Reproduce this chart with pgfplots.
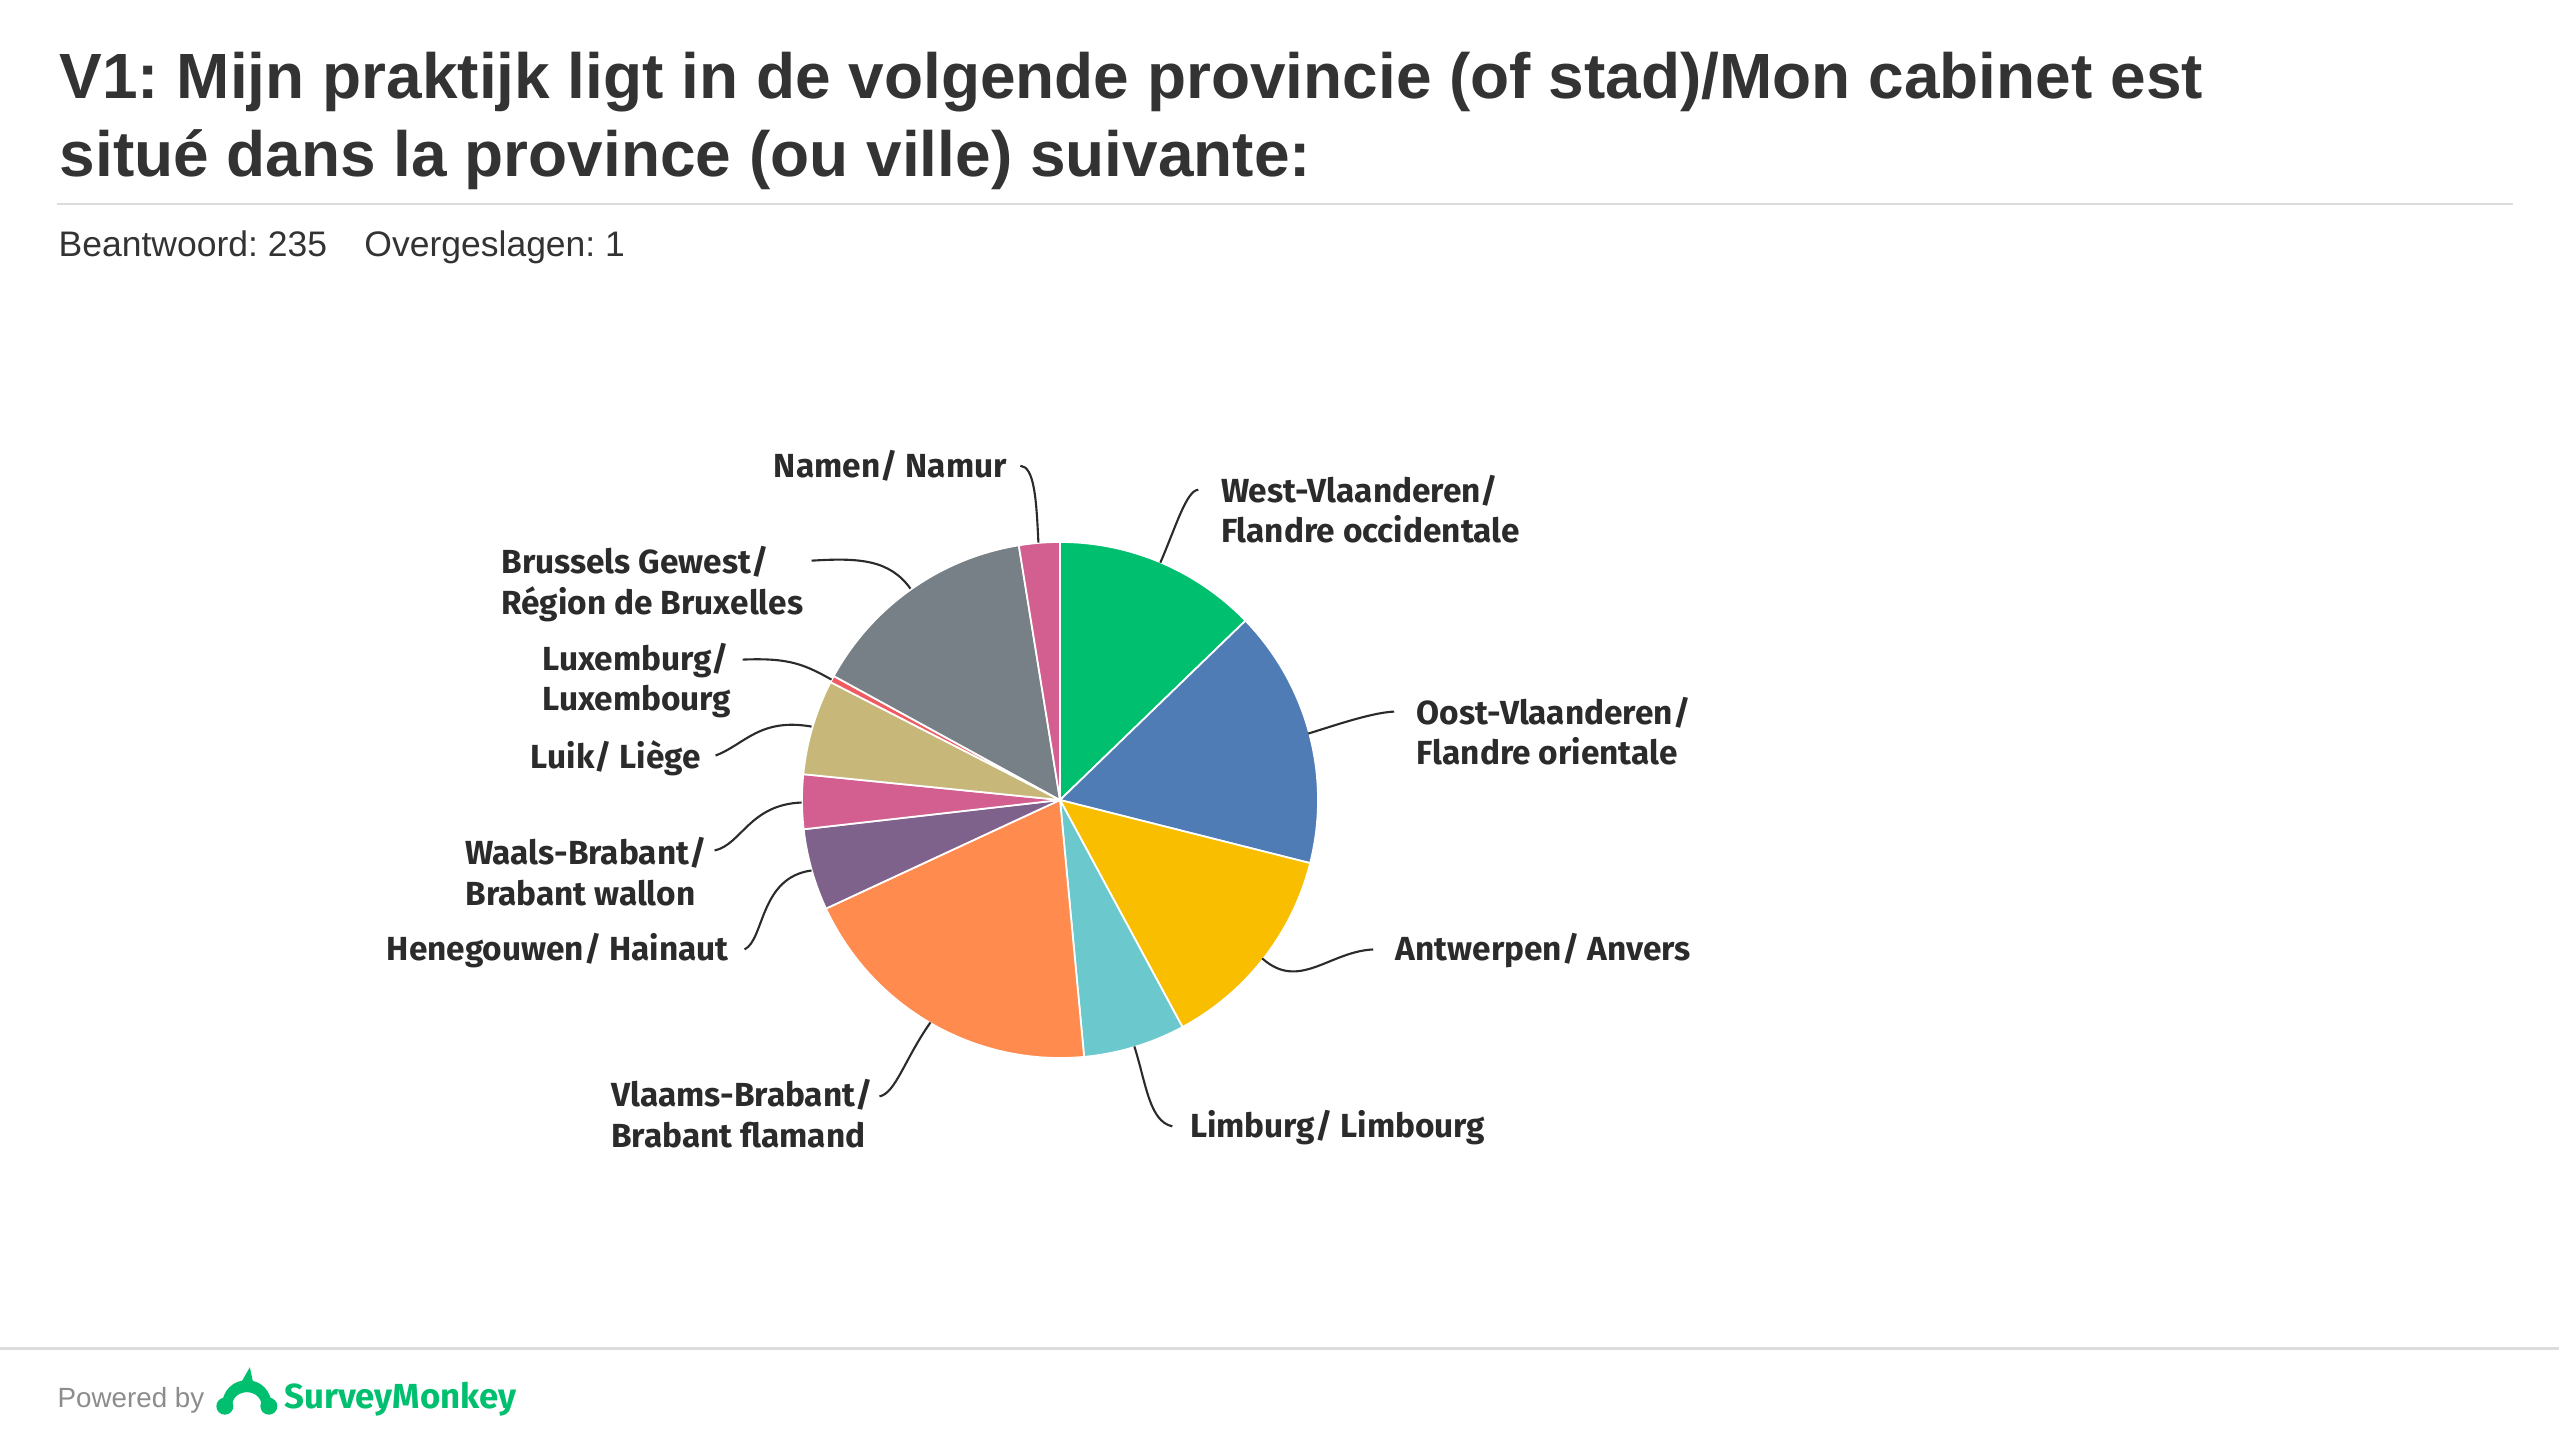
\documentclass[border=0pt]{standalone}
\usepackage{pgfplots}
\pgfplotsset{compat=1.18}
\usepackage{pgfplotstable}
\usepackage{fontspec}
\setmainfont{Liberation Sans}
\newfontfamily\labelfont{Fira Sans}
\definecolor{smGreen}{HTML}{00BF6F}
\definecolor{smBlue}{HTML}{507CB6}
\definecolor{smYellow}{HTML}{F9BE00}
\definecolor{smTeal}{HTML}{6BC8CD}
\definecolor{smOrange}{HTML}{FF8B4F}
\definecolor{smPurple}{HTML}{7F628B}
\definecolor{smPink}{HTML}{D25F90}
\definecolor{smKhaki}{HTML}{C7B879}
\definecolor{smRed}{HTML}{F05B61}
\definecolor{smGray}{HTML}{768086}
\definecolor{txt}{HTML}{333333}
\definecolor{lbl}{HTML}{2B2B2B}
\definecolor{rule}{HTML}{DCDCDC}
\definecolor{powered}{HTML}{8C8C8C}

% Province, respondents (of 235), slice colour; clockwise from 12 o'clock
\pgfplotstableread{
name count color
West-Vlaanderen 30 smGreen
Oost-Vlaanderen 38 smBlue
Antwerpen 31 smYellow
Limburg 15 smTeal
Vlaams-Brabant 46 smOrange
Henegouwen 12 smPurple
Waals-Brabant 8 smPink
Luik 14 smKhaki
Luxemburg 1 smRed
Brussels 34 smGray
Namen 6 smPink
}\piedata

\begin{document}
\frenchspacing
\begin{tikzpicture}
\path[use as bounding box] (0,0) rectangle (25.6cm,14.4cm);

% --- build the slices from the table ---
\pgfplotstablegetrowsof{\piedata}
\pgfmathtruncatemacro{\N}{\pgfplotsretval-1}
\gdef\total{0}
\foreach \i in {0,...,\N}{
  \pgfplotstablegetelem{\i}{count}\of{\piedata}
  \pgfmathsetmacro{\t}{\total+\pgfplotsretval}
  \xdef\total{\t}
}
\gdef\cum{0}
\gdef\slicecmds{}
\foreach \i in {0,...,\N}{
  \pgfplotstablegetelem{\i}{count}\of{\piedata}\let\v\pgfplotsretval
  \pgfplotstablegetelem{\i}{color}\of{\piedata}\let\c\pgfplotsretval
  \pgfmathsetmacro{\a}{90-\cum/\total*360}
  \pgfmathsetmacro{\nc}{\cum+\v}
  \pgfmathsetmacro{\b}{90-\nc/\total*360}
  \xdef\cum{\nc}
  \xdef\slicecmds{\unexpanded\expandafter{\slicecmds}%
    \noexpand\fill[\c, draw=white, line width=0.5pt, line join=round]
      (axis cs:0,0) -- (axis cs:{cos(\a)},{sin(\a)})
      arc[start angle=\a, end angle=\b, radius=2.58cm] -- cycle;}
}

\begin{axis}[at={(10.60cm,6.40cm)}, anchor=origin,
  x=2.58cm, y=2.58cm, xmin=-1.1, xmax=1.1, ymin=-1.1, ymax=1.1,
  hide axis, clip=false]
\slicecmds
\end{axis}

\begin{scope}[shift={(0,14.4cm)}, x=0.01cm, y=-0.01cm]
  % title
  \node[anchor=base west, inner sep=0, text=txt, font=\fontsize{18.2}{22}\selectfont\bfseries]
    at (59,99) {V1: Mijn praktijk ligt in de volgende provincie (of stad)/Mon cabinet est};
  \node[anchor=base west, inner sep=0, text=txt, font=\fontsize{18.2}{22}\selectfont\bfseries]
    at (59,177) {situé dans la province (ou ville) suivante:};
  \draw[rule, line width=0.6pt] (57,204) -- (2514,204);
  \node[anchor=base west, inner sep=0, text=txt, font=\fontsize{10.1}{12}\selectfont]
    at (58,257) {Beantwoord: 235};
  \node[anchor=base west, inner sep=0, text=txt, font=\fontsize{10.1}{12}\selectfont]
    at (364,257) {Overgeslagen: 1};

  % labels
  \tikzset{lab/.style={inner sep=0, text=lbl, font=\labelfont\bfseries\fontsize{9.5}{11}\selectfont}}
  \node[lab, anchor=base east] at (1008,478) {Namen/ Namur};
  \node[lab, anchor=base west] at (1221,503) {West-Vlaanderen/};
  \node[lab, anchor=base west] at (1221,543) {Flandre occidentale};
  \node[lab, anchor=base west] at (1417,725) {Oost-Vlaanderen/};
  \node[lab, anchor=base west] at (1417,765) {Flandre orientale};
  \node[lab, anchor=base west] at (1396,961) {Antwerpen/ Anvers};
  \node[lab, anchor=base west] at (1190,1138) {Limburg/ Limbourg};
  \node[lab, anchor=base west] at (611,1107) {Vlaams-Brabant/};
  \node[lab, anchor=base west] at (611,1148) {Brabant flamand};
  \node[lab, anchor=base east] at (730,961) {Henegouwen/ Hainaut};
  \node[lab, anchor=base west] at (465,865) {Waals-Brabant/};
  \node[lab, anchor=base west] at (465,906) {Brabant wallon};
  \node[lab, anchor=base east] at (702,769) {Luik/ Liège};
  \node[lab, anchor=base west] at (542,671) {Luxemburg/};
  \node[lab, anchor=base west] at (542,711) {Luxembourg};
  \node[lab, anchor=base west] at (501,574) {Brussels Gewest/};
  \node[lab, anchor=base west] at (501,615) {Région de Bruxelles};

  % leader lines
  \begin{scope}[draw=lbl, line width=0.6pt]
    \draw (1021,466) .. controls (1035,467) and (1037,500) .. (1039,543);
    \draw (1199,490) .. controls (1187,491) and (1177,526) .. (1161,563);
    \draw (1395,712) .. controls (1372,713) and (1332,727) .. (1309,734);
    \draw (1263,959) .. controls (1300,992) and (1330,952) .. (1374,950);
    \draw (1135,1047) .. controls (1147,1085) and (1150,1122) .. (1173,1127);
    \draw (880,1097) .. controls (896,1094) and (905,1060) .. (931,1023);
    \draw (745,950) .. controls (765,940) and (760,878) .. (812,871);
    \draw (715,851) .. controls (742,845) and (750,805) .. (802,803);
    \draw (716,756) .. controls (745,745) and (760,718) .. (812,727);
    \draw (743,660) .. controls (790,658) and (805,665) .. (832,680);
    \draw (812,561) .. controls (860,558) and (890,560) .. (911,589);
  \end{scope}

  % footer
  \draw[rule, line width=0.8pt] (0,1349) -- (2560,1349);
  \node[anchor=base west, inner sep=0, text=powered, font=\fontsize{7.9}{9}\selectfont]
    at (57,1408) {Powered by};
  \fill[smGreen] (222,1408) .. controls (222,1372) and (272,1372) .. (272,1408)
     -- (262,1408) .. controls (262,1388) and (232,1388) .. (232,1408) -- cycle;
  \fill[smGreen] (225,1407) circle[radius=0.085cm];
  \fill[smGreen] (269,1407) circle[radius=0.085cm];
  \fill[smGreen] (242,1382) -- (250,1368) -- (253,1382) -- cycle;
  \node[anchor=base west, inner sep=0, text=smGreen, font=\labelfont\bfseries\fontsize{9.9}{11}\selectfont]
    at (284,1409) {SurveyMonkey};
\end{scope}
\end{tikzpicture}
\end{document}
